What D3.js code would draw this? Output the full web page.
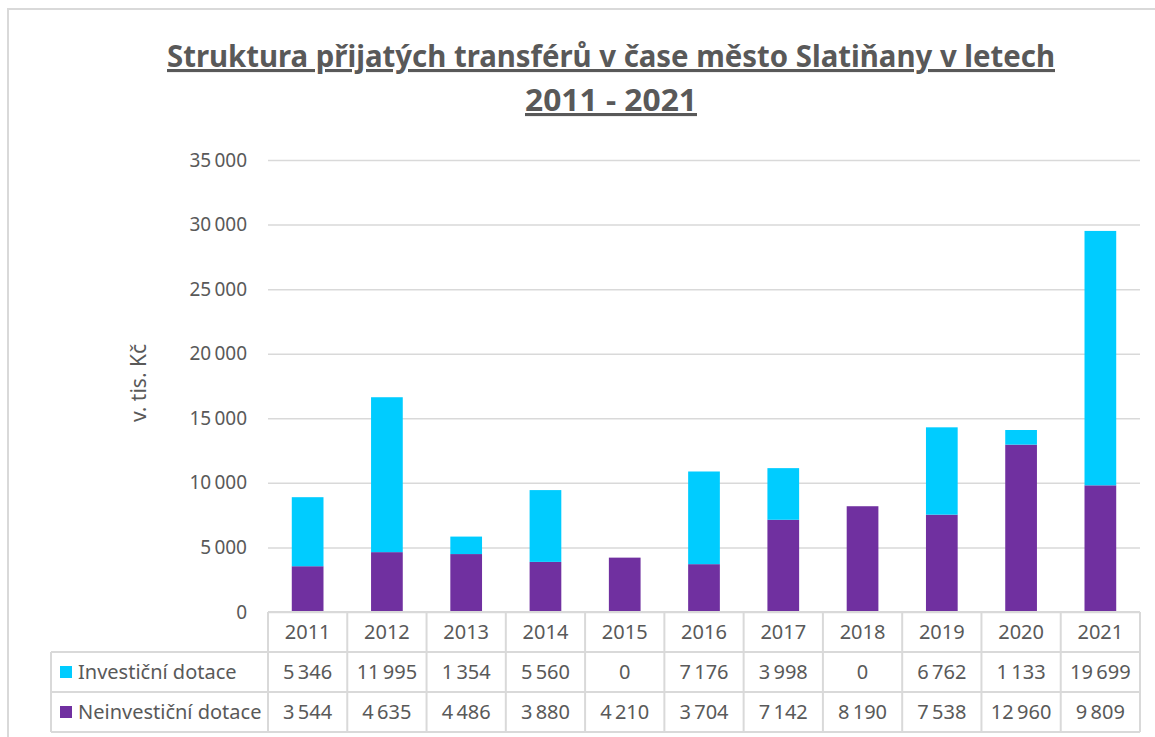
<!DOCTYPE html>
<html>
<head>
<meta charset="utf-8">
<script src="https://cdn.jsdelivr.net/npm/d3@7"></script>
<style>
  body { margin: 0; background: #fff; }
  text { font-family: "Noto Sans", "Open Sans", sans-serif; fill: #595959; }
</style>
</head>
<body>
<div id="chart"></div>
<script>
const years = ["2011", "2012", "2013", "2014", "2015", "2016", "2017", "2018", "2019", "2020", "2021"];
const investicni = [5346, 11995, 1354, 5560, 0, 7176, 3998, 0, 6762, 1133, 19699];
const neinvesticni = [3544, 4635, 4486, 3880, 4210, 3704, 7142, 8190, 7538, 12960, 9809];
const seriesNames = ["Investiční dotace", "Neinvestiční dotace"];
const seriesColors = ["#00ccff", "#7030a0"];
const yTicks = [0, 5000, 10000, 15000, 20000, 25000, 30000, 35000];

const width = 1155;
const height = 737;

const margin = {
    left: 268,
    right: 15,
    top: 160,
    bottom: 125
};

const rowH = 40;

let svg = d3.select("#chart")
    .append("svg")
    .attr("width", width)
    .attr("height", height);

// chart frame
svg.append("rect")
    .attr("x", 8)
    .attr("y", 9)
    .attr("width", width + 20)
    .attr("height", height + 20)
    .attr("fill", "none")
    .attr("stroke", "#d9d9d9")
    .attr("stroke-width", 2);

const fmt = d3.formatLocale({decimal: ",", thousands: "\u202f", grouping: [3], currency: ["", " Kč"]}).format(",d");

let xScale = d3.scaleBand()
    .domain(years)
    .range([margin.left, width - margin.right])
    .paddingInner(0.6)
    .paddingOuter(0.3);

let colScale = d3.scaleBand()
    .domain(years)
    .range([margin.left, width - margin.right]);

let yScale = d3.scaleLinear()
    .domain([0, 35000])
    .range([height - margin.bottom, margin.top]);

// title
let title = svg.append("g").attr("class", "title");
[["Struktura přijatých transférů v čase město Slatiňany v letech", 67, 888],
 ["2011 - 2021", 111, 172]].forEach(([t, y, w]) => {
    title.append("text")
        .attr("x", 611)
        .attr("y", y)
        .attr("text-anchor", "middle")
        .attr("textLength", w)
        .attr("lengthAdjust", "spacingAndGlyphs")
        .style("font-size", "31px")
        .style("font-weight", "bold")
        .style("text-decoration", "underline")
        .text(t);
});

// grid + y axis
let yAxis = svg.append("g")
    .attr("class", "axis axis--y")
    .attr("transform", "translate(" + margin.left + ",0)")
    .call(d3.axisLeft(yScale)
        .tickValues(yTicks)
        .tickSize(-(width - margin.right - margin.left))
        .tickPadding(21)
        .tickFormat(fmt));
yAxis.select(".domain").remove();
yAxis.selectAll(".tick line")
    .attr("stroke", "#d9d9d9")
    .attr("stroke-width", 1.5);
yAxis.selectAll(".tick text")
    .attr("fill", "#595959")
    .style("font-size", "19px")
    .style("font-family", "\"Noto Sans\", sans-serif");

svg.append("text")
    .attr("class", "y axis-title")
    .attr("text-anchor", "middle")
    .attr("transform", `translate(146, 383) rotate(-90)`)
    .style("font-size", "21px")
    .text("v. tis. Kč");

// stacked bars
const data = years.map((y, i) => ({year: y, inv: investicni[i], neinv: neinvesticni[i]}));
const stack = d3.stack().keys(["neinv", "inv"])(data);
const keyColor = {neinv: seriesColors[1], inv: seriesColors[0]};

svg.append("g")
    .selectAll("g")
    .data(stack)
    .enter()
    .append("g")
    .attr("fill", d => keyColor[d.key])
    .selectAll("rect")
    .data(d => d)
    .enter()
    .append("rect")
    .attr("x", d => xScale(d.data.year))
    .attr("width", xScale.bandwidth())
    .attr("y", d => yScale(d[1]))
    .attr("height", d => yScale(d[0]) - yScale(d[1]));

// data table
const tableTop = height - margin.bottom;
const tableLeft = 51;
const tableRight = width - margin.right;
let table = svg.append("g").attr("class", "table");
const gridStroke = "#d9d9d9";

function hline(x1, x2, y) {
    table.append("line").attr("x1", x1).attr("x2", x2).attr("y1", y).attr("y2", y)
        .attr("stroke", gridStroke).attr("stroke-width", 2);
}
function vline(x, y1, y2) {
    table.append("line").attr("x1", x).attr("x2", x).attr("y1", y1).attr("y2", y2)
        .attr("stroke", gridStroke).attr("stroke-width", 2);
}

hline(margin.left, tableRight, tableTop);
hline(tableLeft, tableRight, tableTop + rowH);
hline(tableLeft, tableRight, tableTop + 2 * rowH);
hline(tableLeft, tableRight, tableTop + 3 * rowH);
vline(tableLeft, tableTop + rowH, tableTop + 3 * rowH);
years.forEach(y => vline(colScale(y), tableTop, tableTop + 3 * rowH));
vline(tableRight, tableTop, tableTop + 3 * rowH);

const cellFont = "20px";
years.forEach((y, i) => {
    const cx = colScale(y) + colScale.bandwidth() / 2;
    table.append("text").attr("x", cx).attr("y", tableTop + rowH / 2 + 7)
        .attr("text-anchor", "middle").style("font-size", cellFont).text(y);
    table.append("text").attr("x", cx).attr("y", tableTop + 1.5 * rowH + 7)
        .attr("text-anchor", "middle").style("font-size", cellFont).text(fmt(investicni[i]));
    table.append("text").attr("x", cx).attr("y", tableTop + 2.5 * rowH + 7)
        .attr("text-anchor", "middle").style("font-size", cellFont).text(fmt(neinvesticni[i]));
});

seriesNames.forEach((name, i) => {
    const cy = tableTop + (1.5 + i) * rowH;
    table.append("rect")
        .attr("x", 60).attr("y", cy - 6).attr("width", 12).attr("height", 12)
        .attr("fill", seriesColors[i]);
    table.append("text").attr("x", 78).attr("y", cy + 7)
        .style("font-size", cellFont).text(name);
});
</script>
</body>
</html>
